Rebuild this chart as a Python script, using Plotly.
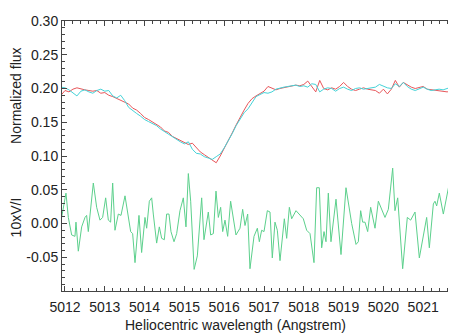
import plotly.graph_objects as go

# Flux spectra (0.1 A grid)
wl_flux = [round(5011.9 + 0.1 * i, 1) for i in range(100)]
flux_red = [0.190, 0.197, 0.195, 0.199, 0.201, 0.199, 0.198, 0.197, 0.196, 0.197,
            0.193, 0.194, 0.190, 0.188, 0.185, 0.183, 0.180, 0.177, 0.171, 0.168,
            0.163, 0.157, 0.154, 0.150, 0.147, 0.143, 0.137, 0.135, 0.129, 0.126,
            0.122, 0.120, 0.117, 0.119, 0.112, 0.106, 0.102, 0.098, 0.094, 0.090,
            0.100, 0.111, 0.121, 0.134, 0.146, 0.158, 0.168, 0.178, 0.185, 0.189,
            0.193, 0.196, 0.203, 0.200, 0.198, 0.200, 0.201, 0.202, 0.203, 0.205,
            0.204, 0.206, 0.211, 0.203, 0.195, 0.212, 0.200, 0.198, 0.201, 0.199,
            0.203, 0.209, 0.203, 0.199, 0.197, 0.199, 0.201, 0.199, 0.198, 0.197,
            0.193, 0.199, 0.192, 0.199, 0.212, 0.202, 0.209, 0.205, 0.202, 0.200,
            0.201, 0.203, 0.199, 0.198, 0.197, 0.197, 0.196, 0.195, 0.196, 0.197]
flux_cyan = [0.202, 0.201, 0.198, 0.193, 0.189, 0.196, 0.198, 0.195, 0.193, 0.197,
             0.199, 0.196, 0.197, 0.189, 0.186, 0.190, 0.182, 0.172, 0.167, 0.163,
             0.159, 0.154, 0.151, 0.148, 0.145, 0.140, 0.136, 0.132, 0.128, 0.124,
             0.121, 0.118, 0.121, 0.110, 0.104, 0.103, 0.099, 0.097, 0.095, 0.099,
             0.103, 0.112, 0.122, 0.133, 0.145, 0.155, 0.164, 0.170, 0.180, 0.188,
             0.191, 0.194, 0.193, 0.195, 0.199, 0.201, 0.202, 0.203, 0.204, 0.205,
             0.203, 0.204, 0.202, 0.207, 0.206, 0.195, 0.199, 0.201, 0.200, 0.196,
             0.200, 0.202, 0.199, 0.197, 0.200, 0.201, 0.199, 0.200, 0.201, 0.202,
             0.206, 0.203, 0.201, 0.200, 0.207, 0.203, 0.209, 0.203, 0.199, 0.197,
             0.200, 0.202, 0.199, 0.197, 0.198, 0.199, 0.198, 0.200, 0.202, 0.200]

# Stokes V signal (10 x V/I)
wl_v = [5011.916, 5012.025, 5012.084, 5012.168, 5012.251, 5012.276, 5012.335, 5012.419,
        5012.503, 5012.544, 5012.586, 5012.712, 5012.796, 5012.879, 5012.946, 5013.022,
        5013.089, 5013.147, 5013.198, 5013.256, 5013.340, 5013.407, 5013.508, 5013.591,
        5013.650, 5013.700, 5013.759, 5013.859, 5013.926, 5014.010, 5014.052, 5014.119,
        5014.178, 5014.219, 5014.303, 5014.370, 5014.429, 5014.496, 5014.554, 5014.613,
        5014.663, 5014.739, 5014.806, 5014.889, 5014.973, 5015.040, 5015.099, 5015.158,
        5015.245, 5015.325, 5015.434, 5015.492, 5015.601, 5015.660, 5015.727, 5015.794,
        5015.853, 5015.911, 5015.962, 5016.020, 5016.087, 5016.162, 5016.229, 5016.296,
        5016.397, 5016.464, 5016.523, 5016.590, 5016.648, 5016.749, 5016.833, 5016.883,
        5016.941, 5017.000, 5017.084, 5017.151, 5017.209, 5017.276, 5017.335, 5017.402,
        5017.511, 5017.570, 5017.637, 5017.695, 5017.804, 5017.905, 5017.988, 5018.072,
        5018.156, 5018.256, 5018.323, 5018.390, 5018.449, 5018.508, 5018.558, 5018.616,
        5018.683, 5018.809, 5018.935, 5019.060, 5019.203, 5019.312, 5019.370, 5019.429,
        5019.479, 5019.538, 5019.605, 5019.680, 5019.789, 5019.873, 5019.957, 5020.040,
        5020.124, 5020.233, 5020.291, 5020.359, 5020.484, 5020.601, 5020.685, 5020.794,
        5020.903, 5021.003, 5021.087, 5021.154, 5021.255, 5021.296, 5021.338, 5021.405,
        5021.506, 5021.657, 5021.782, 5021.824]
v_signal = [0.009, 0.045, 0.009, -0.017, -0.019, 0.002, -0.041, -0.005,
            0.009, 0.012, -0.012, 0.060, 0.024, 0.005, 0.009, 0.038,
            0.005, 0.002, 0.060, -0.010, 0.014, 0.012, 0.041, 0.009,
            -0.012, -0.015, -0.058, 0.012, -0.043, 0.009, -0.007, 0.033,
            0.038, 0.014, -0.029, -0.005, -0.022, -0.024, 0.014, 0.014,
            -0.012, -0.027, -0.015, 0.019, 0.038, -0.005, 0.074, 0.033,
            -0.068, -0.048, 0.038, -0.024, 0.017, -0.017, -0.015, 0.048,
            0.009, 0.024, -0.012, 0.005, -0.019, 0.033, 0.005, -0.017,
            -0.007, 0.021, -0.003, 0.014, -0.067, -0.019, -0.007, -0.027,
            -0.010, -0.012, 0.019, 0.017, -0.051, 0.002, -0.010, -0.055,
            0.007, -0.022, 0.024, 0.007, 0.019, 0.012, 0.007, -0.010,
            -0.015, -0.058, 0.053, 0.053, -0.036, -0.012, -0.027, 0.045,
            -0.027, 0.036, -0.046, 0.053, 0.000, -0.031, -0.027, 0.019,
            0.002, 0.002, -0.012, 0.024, -0.007, 0.033, 0.021, 0.009,
            0.021, 0.082, 0.019, 0.038, -0.067, 0.009, 0.005, 0.017,
            -0.051, -0.017, 0.009, -0.036, 0.029, 0.033, 0.026, 0.045,
            0.014, 0.060, -0.031, -0.010]

x_ticks = [5012, 5013, 5014, 5015, 5016, 5017, 5018, 5019, 5020, 5021]
y_ticks = [-0.05, 0.00, 0.05, 0.10, 0.15, 0.20, 0.25, 0.30]
y_tick_text = ["-0.05", "0.00", "0.05", "0.10", "0.15", "0.20", "0.25", "0.30"]

fig = go.Figure()
fig.add_trace(go.Scatter(x=wl_flux, y=flux_red, mode="lines",
                         line=dict(color="#e8565a", width=1)))
fig.add_trace(go.Scatter(x=wl_flux, y=flux_cyan, mode="lines",
                         line=dict(color="#45d3d8", width=1)))
fig.add_trace(go.Scatter(x=wl_v, y=v_signal, mode="lines",
                         line=dict(color="#5cd08c", width=1)))

axis_font = dict(family="Liberation Sans, Arial, sans-serif", size=14, color="#222")
# page body has an 8px default margin; compensate so the plot sits where the reference does
fig.update_layout(
    width=456, height=334,
    margin=dict(l=54, r=8, t=5, b=51),
    paper_bgcolor="white", plot_bgcolor="white",
    showlegend=False,
    font=axis_font,
    xaxis=dict(range=[5011.925, 5021.824], tickvals=x_ticks,
               ticktext=[str(t) for t in x_ticks],
               ticks="inside", ticklen=5, tickcolor="#444",
               showline=True, linecolor="#444", linewidth=1, mirror="allticks",
               showgrid=False, zeroline=False, ticklabelstandoff=3,
               ticklabeloverflow="allow",
               minor=dict(dtick=0.2, ticks="inside", ticklen=3, tickcolor="#444"),
               tickfont=dict(size=14)),
    yaxis=dict(range=[-0.10, 0.30], tickvals=y_ticks, ticktext=y_tick_text,
               ticks="inside", ticklen=5, tickcolor="#444",
               showline=True, linecolor="#444", linewidth=1, mirror=False,
               showgrid=False, zeroline=False, ticklabeloverflow="allow",
               minor=dict(dtick=0.01, ticks="inside", ticklen=3, tickcolor="#444"),
               tickfont=dict(size=14)),
)
fig.add_annotation(text="Heliocentric wavelength (Angstrem)", xref="paper", yref="paper",
                   x=0.4416, y=0, yshift=-34, showarrow=False,
                   font=dict(size=14), xanchor="center", yanchor="middle")
fig.add_annotation(text="Normalized flux", xref="paper", yref="y",
                   x=-0.1168, y=0.189, textangle=-90, showarrow=False,
                   font=dict(size=14), xanchor="center", yanchor="middle")
fig.add_annotation(text="10xV/I", xref="paper", yref="y",
                   x=-0.1168, y=0.009, textangle=-90, showarrow=False,
                   font=dict(size=14), xanchor="center", yanchor="middle")

fig.write_html("out.html")
